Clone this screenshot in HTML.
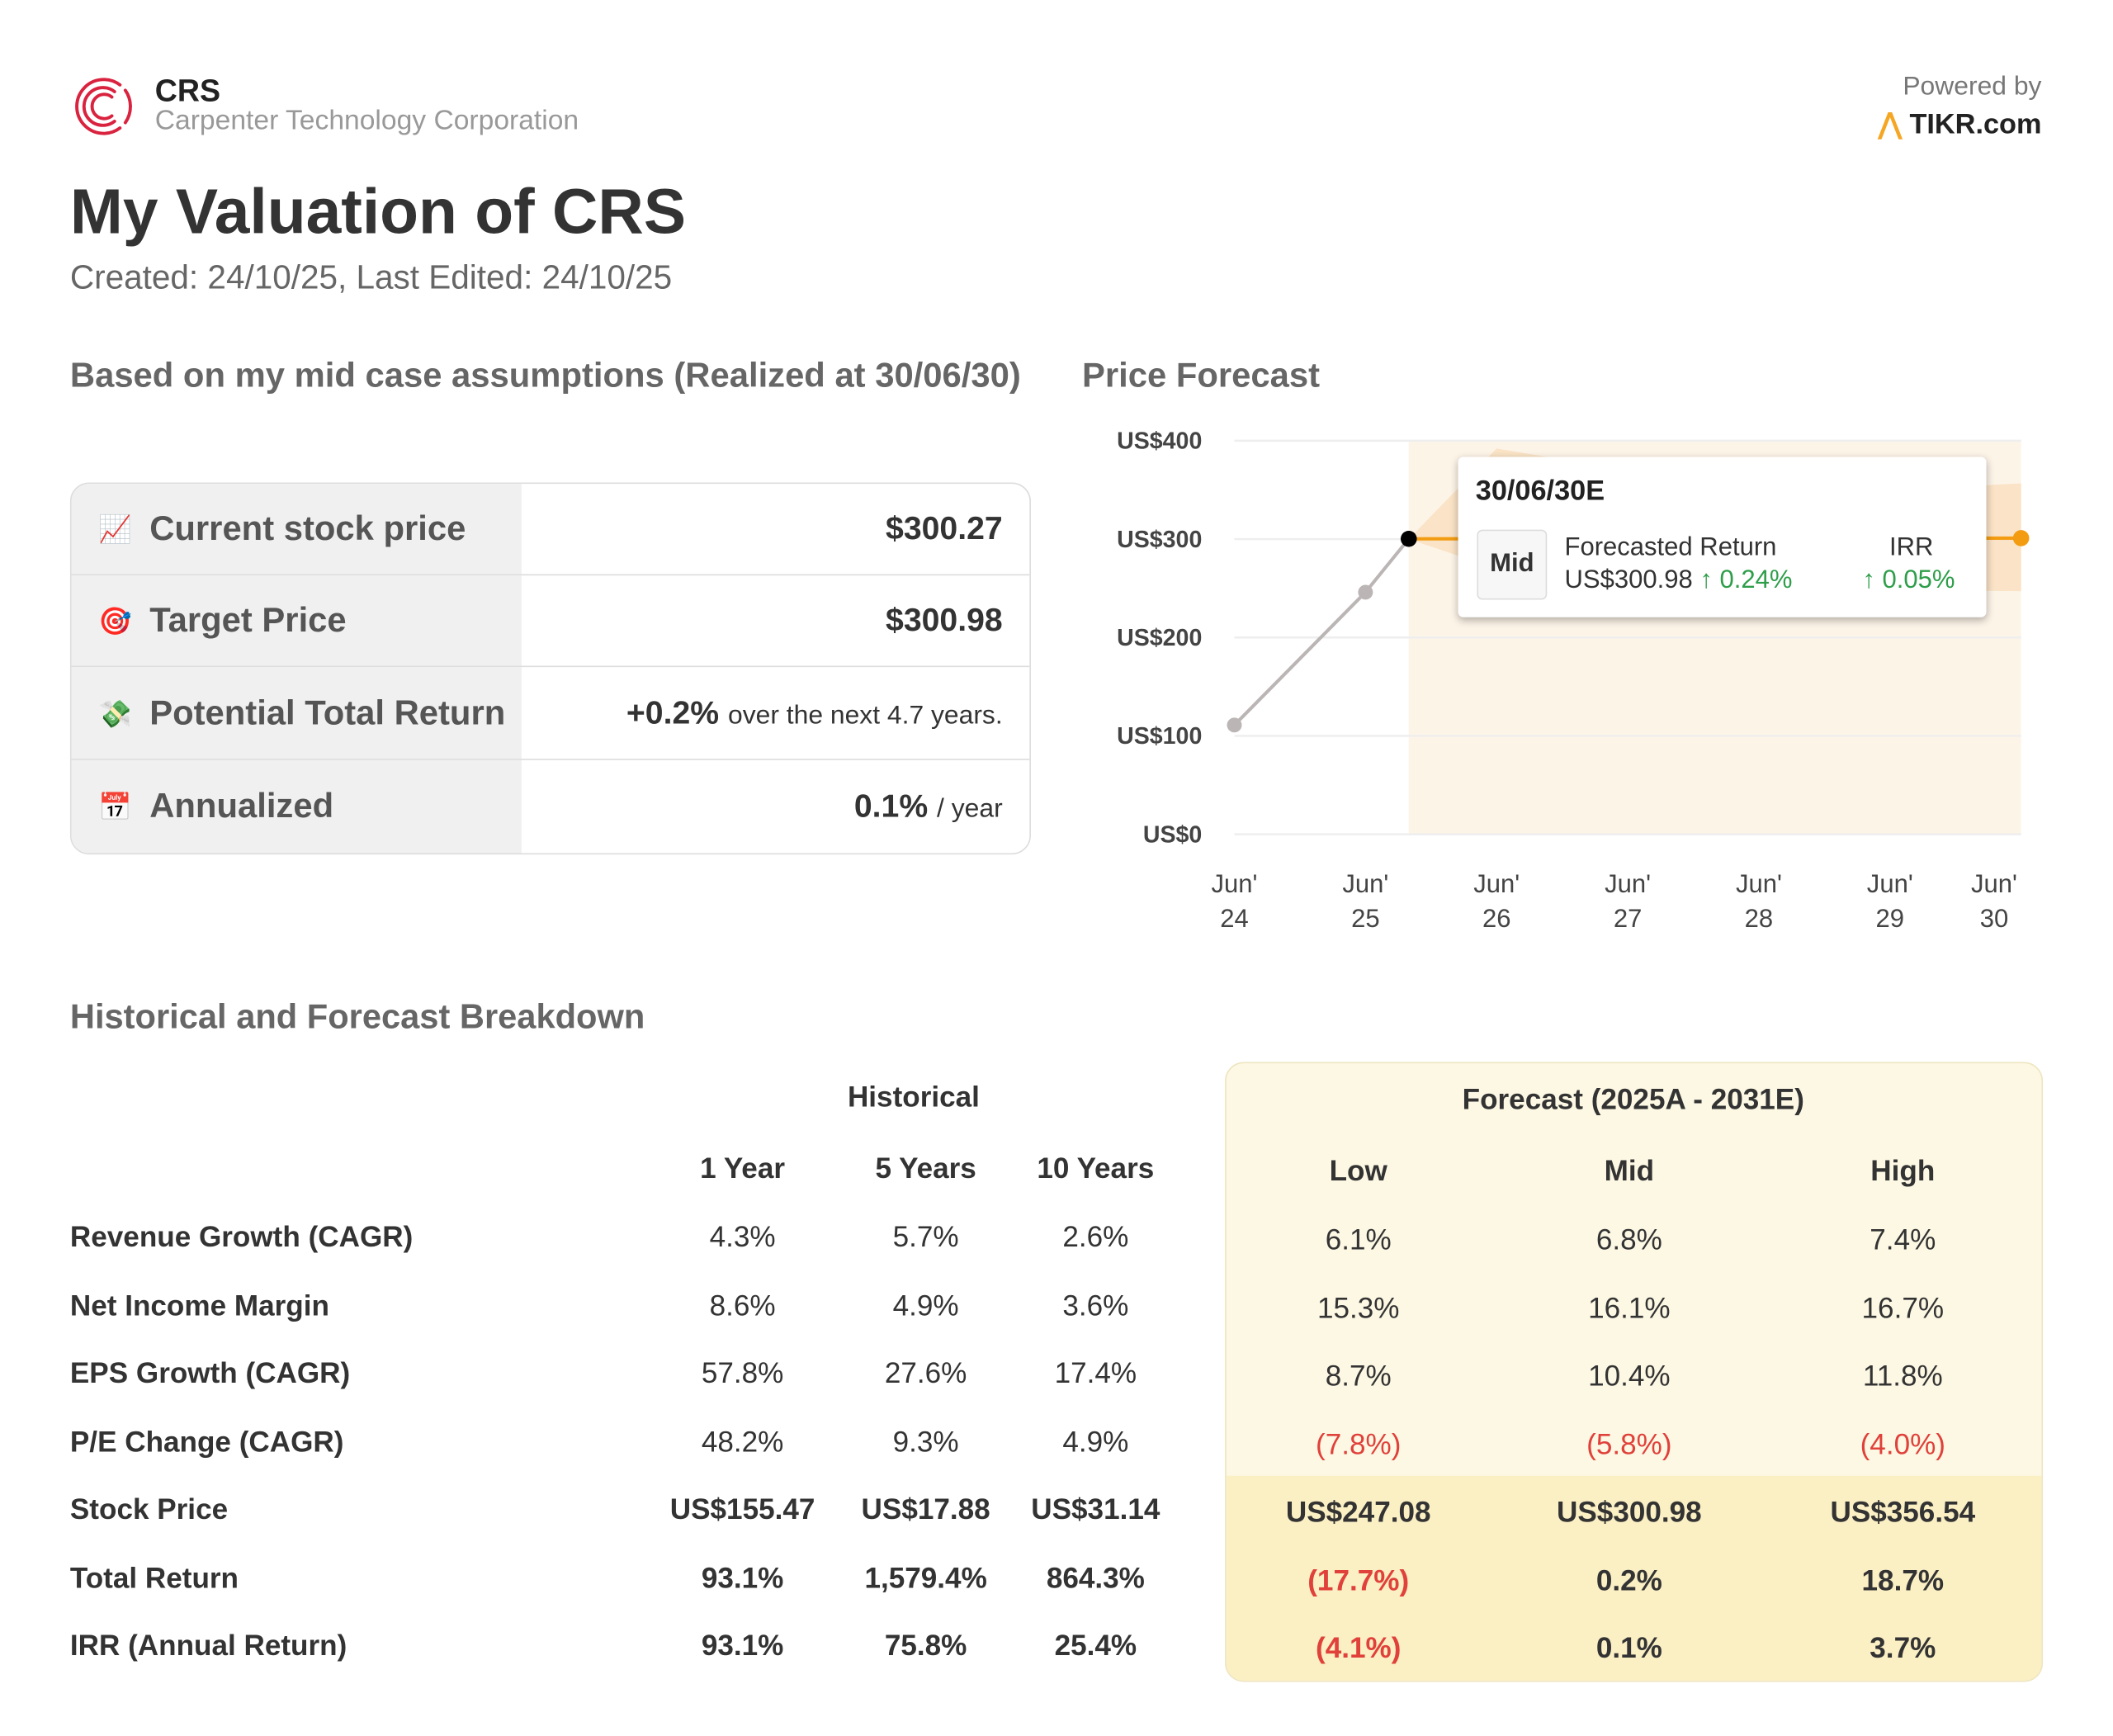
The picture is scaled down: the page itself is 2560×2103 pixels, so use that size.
<!DOCTYPE html>
<html><head><meta charset="utf-8">
<style>
html,body{margin:0;padding:0;background:#fff;}
body{width:2560px;height:2102px;overflow:hidden;font-family:"Liberation Sans",sans-serif;color:#333;}
#root{position:absolute;left:0;top:0;width:1568px;height:1288px;transform:scale(1.63265);transform-origin:0 0;}
.a{position:absolute;white-space:nowrap;}
.c{transform:translateX(-50%);text-align:center;}
.r{transform:translateX(-100%);text-align:right;}
.row{position:absolute;left:53px;width:711px;height:68px;border-top:1px solid #ddd;}
.row .lab{position:absolute;left:0;top:0;width:334px;height:100%;background:#f0f0f0;}
.row .lt{position:absolute;left:58px;top:50%;transform:translateY(-50%);font-size:25.6px;font-weight:bold;color:#555;}
.row .ic{position:absolute;left:20px;top:50%;transform:translateY(-50%);font-size:20px;}
.row .v{position:absolute;right:20px;top:50%;transform:translateY(-50%);font-size:24px;font-weight:bold;color:#333;}
.row .v small{font-size:19.5px;font-weight:normal;}
.red{color:#e0413a;}
</style></head><body>
<div id="root">
<svg class="a" style="left:53px;top:55px" width="48" height="48" viewBox="0 0 48 48">
 <g fill="none" stroke="#d9233f" stroke-width="2.4" stroke-linecap="round">
  <path d="M36 8 A20 20 0 1 0 36 40"/><path d="M40 12 A21 21 0 0 1 40 36"/>
  <path d="M32 13 A14 14 0 1 0 32 35"/><path d="M30 17 A9 9 0 1 0 30 31"/>
 </g></svg>
<div class="a" style="left:115px;top:54px;font-size:23px;font-weight:bold;color:#222">CRS</div>
<div class="a" style="left:115px;top:78px;font-size:20.6px;color:#999">Carpenter Technology Corporation</div>
<div class="a r" style="left:1515px;top:53px;font-size:19.5px;color:#777">Powered by</div>
<div class="a r" style="left:1515px;top:80px;font-size:21px;font-weight:bold;color:#222"><span style="color:#f5a623">⋀</span> TIKR.com</div>
<div class="a" style="left:52px;top:129px;font-size:47px;font-weight:bold;color:#333">My Valuation of CRS</div>
<div class="a" style="left:52px;top:193px;font-size:24.8px;color:#666">Created: 24/10/25, Last Edited: 24/10/25</div>
<div class="a" style="left:52px;top:265px;font-size:25.6px;font-weight:bold;color:#666">Based on my mid case assumptions (Realized at 30/06/30)</div>
<div class="a" style="left:803px;top:265px;font-size:25.6px;font-weight:bold;color:#666">Price Forecast</div>

<div class="a" style="left:52px;top:358px;width:711px;height:274px;border:1px solid #ddd;border-radius:14px;overflow:hidden">
 <div class="row" style="left:0;top:-1px"><div class="lab"></div><span class="ic">📈</span><span class="lt">Current stock price</span><span class="v">$300.27</span></div>
 <div class="row" style="left:0;top:67px"><div class="lab"></div><span class="ic">🎯</span><span class="lt">Target Price</span><span class="v">$300.98</span></div>
 <div class="row" style="left:0;top:135px;height:69px"><div class="lab"></div><span class="ic">💸</span><span class="lt">Potential Total Return</span><span class="v">+0.2% <small>over the next 4.7 years.</small></span></div>
 <div class="row" style="left:0;top:204px;height:70px"><div class="lab"></div><span class="ic">📅</span><span class="lt">Annualized</span><span class="v">0.1% <small>/ year</small></span></div>
</div>

<svg id="chart" class="a" style="left:800px;top:300px" width="768" height="420"></svg>

<div class="a" style="left:1082px;top:339px;width:392px;height:119px;background:#fff;border-radius:4px;box-shadow:0 2px 6px rgba(0,0,0,.3)">
 <div class="a" style="left:13px;top:14px;font-size:21px;font-weight:bold;color:#222">30/06/30E</div>
 <div class="a" style="left:14px;top:54px;width:50px;height:50px;border:1px solid #ddd;border-radius:4px;background:#f7f7f7;font-size:19px;font-weight:bold;line-height:50px;text-align:center">Mid</div>
 <div class="a" style="left:79px;top:57px;font-size:19px;color:#333">Forecasted Return</div>
 <div class="a" style="left:79px;top:81px;font-size:19px;color:#333">US$300.98 <span style="color:#2e9e4a">↑ 0.24%</span></div>
 <div class="a" style="left:320px;top:57px;font-size:19px;color:#333">IRR</div>
 <div class="a" style="left:300px;top:81px;font-size:19px;color:#2e9e4a">↑ 0.05%</div>
</div>

<div class="a" style="left:52px;top:741px;font-size:25.5px;font-weight:bold;color:#666">Historical and Forecast Breakdown</div>
<div class="a" style="left:909px;top:788px;width:605px;height:458px;border:1px solid #eee5c0;border-radius:14px;background:#fdf8e4;overflow:hidden">
 <div class="a" style="left:0;top:306px;width:605px;height:152px;background:#fbefc4"></div>
</div>
<div id="tbl"></div>
</div>
<script>
// chart data
const years=[0,1,2,3,4,5,6];
const xLabels=["Jun'\n24","Jun'\n25","Jun'\n26","Jun'\n27","Jun'\n28","Jun'\n29","Jun'\n30"];
const yTicks=[0,100,200,300,400];
const histT=[0,1,1.33];
const histV=[111,246,300.27];
const bandT=[1.33,2,3,4,5,6];
const bandLow=[300,270,255,250,248,247.08];
const bandHigh=[300,392,370,355,350,356.54];
const midT=[1.33,6];
const midV=[300.27,300.98];
const NS="http://www.w3.org/2000/svg";
const svg=document.getElementById('chart');
const X=t=>116+t*97.3, Y=v=>319-v*0.73;
function mk(tag,at){const e=document.createElementNS(NS,tag);for(const k in at)e.setAttribute(k,at[k]);svg.appendChild(e);return e;}
let bg=mk('rect',{x:X(1.33),y:Y(400),width:X(6)-X(1.33),height:Y(0)-Y(400),fill:'#fdf4e8'});


yTicks.forEach(v=>{
 let l=mk('line',{x1:116,x2:X(6),y1:Y(v),y2:Y(v),stroke:'#eee','stroke-width':1.5});
 
 
 let t=mk('text',{x:92,y:Y(v)+6,'text-anchor':'end','font-size':17.5,'font-weight':'bold',fill:'#444'});
 t.textContent='US$'+v;
 
 
});
years.forEach((y,i)=>{
 const parts=xLabels[i].split('\n');
 const x=i===6?X(y)-20:X(y);
 parts.forEach((p,j)=>{let t=mk('text',{x:x,y:362+j*26,'text-anchor':'middle','font-size':19,fill:'#444'});t.textContent=p;
 
 });
});
let pts=bandT.map((t,i)=>X(t)+','+Y(bandHigh[i])).concat(bandT.map((t,i)=>X(t)+','+Y(bandLow[i])).reverse());
let band=mk('polygon',{points:pts.join(' '),fill:'#f9dfbd',opacity:0.8});


let hl=mk('polyline',{points:histT.map((t,i)=>X(t)+','+Y(histV[i])).join(' '),fill:'none',stroke:'#bbb5b5','stroke-width':2.5});


let ml=mk('polyline',{points:midT.map((t,i)=>X(t)+','+Y(midV[i])).join(' '),fill:'none',stroke:'#f39c12','stroke-width':2.5});


histT.forEach((t,i)=>{let c=mk('circle',{cx:X(t),cy:Y(histV[i]),r:i===2?6:5.5,fill:i===2?'#000':'#bbb5b5'});
 
 });
let ep=mk('circle',{cx:X(6),cy:Y(midV[1]),r:6,fill:'#f39c12'});



// table
const cols=[551,687,813,1008,1209,1412];
const rowNames=["Revenue Growth (CAGR)","Net Income Margin","EPS Growth (CAGR)","P/E Change (CAGR)","Stock Price","Total Return","IRR (Annual Return)"];
const vals=[
["4.3%","5.7%","2.6%","6.1%","6.8%","7.4%"],
["8.6%","4.9%","3.6%","15.3%","16.1%","16.7%"],
["57.8%","27.6%","17.4%","8.7%","10.4%","11.8%"],
["48.2%","9.3%","4.9%","(7.8%)","(5.8%)","(4.0%)"],
["US$155.47","US$17.88","US$31.14","US$247.08","US$300.98","US$356.54"],
["93.1%","1,579.4%","864.3%","(17.7%)","0.2%","18.7%"],
["93.1%","75.8%","25.4%","(4.1%)","0.1%","3.7%"]];
const root=document.getElementById('tbl');
function div(x,y,txt,cls,st,name){const d=document.createElement('div');d.className='a '+cls;d.style.cssText='left:'+x+'px;top:'+y+'px;'+st;d.textContent=txt;


root.appendChild(d);}
div(678,802,'Historical','c','font-size:21.5px;font-weight:bold;','historical-header');
div(1212,804,'Forecast (2025A - 2031E)','c','font-size:21.5px;font-weight:bold;','forecast-header');
["1 Year","5 Years","10 Years","Low","Mid","High"].forEach((h,i)=>div(cols[i],i<3?855:857,h,'c','font-size:21.5px;font-weight:bold;','column-header'));
rowNames.forEach((n,r)=>{
 const y=906+r*50.5;
 div(52,y,n,'','font-size:21.5px;font-weight:bold;','row-label');
 vals[r].forEach((v,i)=>{
  const neg=v.startsWith('(');
  div(cols[i],y+(i>2?2:0),v,'c'+(neg?' red':''),'font-size:21.5px;'+(r>=4?'font-weight:bold;':'')+(neg?'':'color:#333;'),'table-cell');
 });
});
</script>
</body></html>
